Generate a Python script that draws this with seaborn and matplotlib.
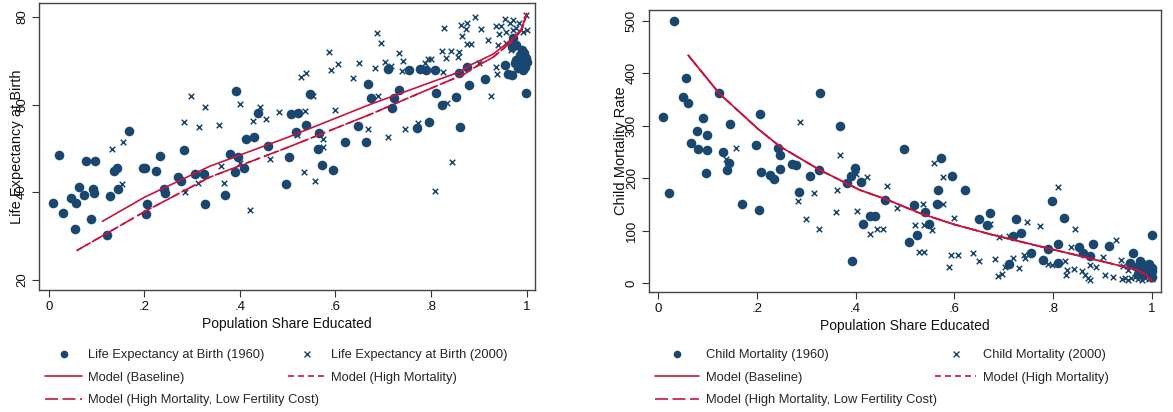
import matplotlib
matplotlib.use("Agg")
import matplotlib.pyplot as plt
import seaborn as sns
from matplotlib.lines import Line2D

# ---------------- data: left panel (life expectancy) ----------------
le_1960_x = [.008, .020, .029, .047, .054, .057, .062, .074, .077, .088, .093, .094, .097, .121, .128,
             .136, .142, .145, .168, .196, .202, .205, .203, .225, .233, .241, .244, .270, .276, .283,
             .306, .325, .327, .368, .380, .391, .396, .390, .409, .413, .429, .438, .458, .496, .503,
             .507, .522, .517, .538, .547, .566, .564, .571, .595, .620, .648, .663, .669, .674, .719,
             .723, .734, .709, .754, .778, .789, .808, .796, .771, .810, .822, .852, .861, .858, .875,
             .879, .913, .955, .962, .969, .999, .972, .979, .990, .995, .999, .979, .990, .997, .983,
             .993, 1.0, .976, .986, .969]
le_1960_y = [37.6, 48.4, 35.3, 38.7, 31.5, 37.4, 41.1, 39.4, 47.1, 33.8, 40.7, 39.7, 47.1, 30.2, 39.2,
             44.8, 45.6, 40.6, 53.9, 45.6, 45.6, 37.2, 35.0, 44.7, 48.2, 40.6, 39.8, 43.5, 42.5, 49.6,
             44.1, 44.1, 37.3, 39.3, 48.6, 63.2, 48.1, 44.6, 45.4, 52.1, 52.6, 58.0, 50.5, 41.9, 48.0,
             57.9, 58.0, 53.8, 55.3, 62.4, 53.4, 49.8, 46.2, 45.1, 51.4, 55.1, 51.4, 64.8, 61.4, 59.1,
             61.6, 63.3, 68.1, 67.8, 68.1, 67.9, 67.9, 56.1, 54.6, 62.7, 60.0, 61.8, 54.9, 67.1, 68.6,
             64.5, 65.8, 69.0, 67.0, 66.8, 62.6, 75.1, 73.6, 72.5, 71.7, 70.6, 70.2, 69.4, 68.6, 68.3,
             67.9, 69.8, 69.4, 71.3, 73.2]
le_2000_x = [.133, .156, .153, .282, .285, .297, .313, .315, .326, .357, .360, .367, .400, .401, .420,
             .427, .441, .454, .463, .482, .519, .527, .538, .537, .535, .553, .558, .574, .574, .586,
             .591, .605, .598, .637, .649, .669, .686, .695, .682, .704, .716, .732, .742, .740, .690,
             .711, .746, .773, .787, .793, .800, .822, .831, .841, .827, .826, .834, .844, .809, .859,
             .857, .862, .875, .873, .864, .875, .884, .892, .905, .919, .900, .926, .936, .939, .941,
             .937, .947, .943, .954, .958, .965, .957, .967, .972, .979, .984, .999, .993, 1.0, .972]
le_2000_y = [49.9, 51.4, 41.8, 55.9, 39.9, 61.9, 42.1, 54.9, 59.5, 55.4, 46.0, 42.1, 60.2, 46.6, 36.0,
             56.2, 59.4, 56.7, 47.5, 58.4, 53.0, 66.4, 67.3, 58.6, 44.5, 61.9, 42.6, 52.1, 50.3, 72.0,
             68.0, 69.3, 58.8, 66.1, 69.6, 54.4, 76.3, 74.0, 68.4, 69.7, 68.8, 71.7, 69.9, 67.7, 62.0,
             52.6, 54.3, 55.7, 69.4, 70.3, 70.3, 72.3, 70.6, 72.2, 77.4, 67.5, 60.3, 46.8, 40.2, 72.1,
             70.8, 78.2, 78.6, 77.2, 75.7, 73.8, 73.8, 80.1, 77.3, 74.7, 69.4, 62.0, 68.6, 66.9, 73.6,
             77.9, 77.9, 76.1, 79.5, 76.6, 78.6, 74.0, 72.5, 79.3, 77.4, 78.6, 80.5, 76.6, 77.0, 77.0]
le_base_x = [.112, .2, .337, .5, .672, .861, .882, .93, .972, .99, 1.0]
le_base_y = [33.3, 38.8, 45.9, 52.5, 60.0, 67.5, 69.0, 71.5, 75.1, 77.4, 80.8]
le_hm_x = [.058, .2, .337, .5, .672, .742, .871, .882, .93, .965, .99, 1.0]
le_hm_y = [26.6, 35.5, 43.4, 50.2, 57.7, 61.0, 67.0, 67.9, 70.8, 74.0, 77.0, 80.5]

# ---------------- data: right panel (child mortality) ----------------
cm_1960_x = [.032, .011, .023, .057, .051, .060, .092, .078, .100, .066, .080, .099, .097, .124, .146,
             .131, .144, .139, .171, .204, .206, .198, .208, .227, .235, .242, .246, .246, .272, .279,
             .308, .286, .325, .328, .368, .393, .383, .391, .398, .410, .415, .430, .440, .460, .498,
             .509, .524, .519, .540, .549, .565, .567, .572, .596, .621, .649, .665, .672, .725, .735,
             .719, .711, .754, .797, .822, .790, .780, .810, .809, .852, .880, .860, .874, .913, .962,
             .955, .999, .976, .986, .996, .979, .989, .999, .969, .993, .982, .999, .972, 1.0, .990]
cm_1960_y = [500, 316, 171, 390, 355, 343, 314, 289, 282, 267, 255, 254, 209, 361, 302,
             249, 228, 215, 151, 140, 321, 262, 212, 206, 199, 257, 243, 217, 226, 225,
             203, 174, 215, 362, 300, 41, 191, 204, 220, 193, 113, 128, 128, 159, 255,
             79, 92, 148, 135, 112, 150, 177, 239, 203, 178, 122, 110, 133, 121, 95,
             90, 36, 58, 156, 124, 64, 44, 74, 39, 68, 74, 58, 51, 70, 58,
             38, 91, 41, 34, 31, 25, 22, 22, 31, 37, 15, 12, 18, 28, 28]
cm_2000_x = [.157, .137, .287, .284, .316, .299, .325, .368, .362, .360, .401, .403, .422, .429, .444,
             .456, .464, .483, .559, .576, .576, .536, .521, .538, .555, .529, .539, .599, .593, .607,
             .588, .638, .650, .810, .746, .773, .844, .835, .927, .672, .691, .711, .683, .718, .740,
             .743, .731, .702, .696, .689, .790, .797, .824, .827, .826, .842, .858, .864, .871, .875,
             .875, .887, .905, .920, .901, .937, .942, .939, .946, .952, .958, .965, .972, .979, .986,
             .993, 1.0, .952, .966]
cm_2000_y = [257, 237, 307, 156, 171, 122, 102, 244, 178, 135, 207, 137, 202, 94, 103,
             102, 185, 142, 228, 202, 150, 150, 111, 110, 101, 59, 59, 124, 53, 53,
             31, 58, 41, 182, 117, 108, 103, 69, 81, 112, 88, 90, 45, 48, 53,
             48, 29, 31, 18, 13, 37, 34, 41, 25, 15, 26, 22, 15, 9, 6,
             34, 31, 15, 11, 50, 44, 32, 8, 10, 6, 9, 11, 8, 6, 10,
             8, 7, 25, 31]
cm_model_x = [.061, .124, .203, .247, .328, .409, .463, .530, .598, .672, .794, .874, .969, .989, 1.0]
cm_model_y = [434, 361, 293, 260, 215, 177, 159, 133, 112, 93, 65, 47, 25, 15, 2.5]

xtick_vals = [0, .2, .4, .6, .8, 1]
xtick_labels = ["0", ".2", ".4", ".6", ".8", "1"]
le_yticks = [20, 40, 60, 80]
cm_yticks = [0, 100, 200, 300, 400, 500]

# ---------------- style ----------------
sns.set_theme(style="white")
plt.rcParams['font.family'] = ['Liberation Sans', 'DejaVu Sans']
NAVY = "#1a476f"
RED = "#c8143c"
LW = 1.2
HM_DASH = (0, (3.6, 2.4))
LFC_DASH = (0, (7.8, 2.7))

fig = plt.figure(figsize=(11.73, 4.12), dpi=100)
W, H = 1173, 412
axL = fig.add_axes([39 / W, 1 - 290 / H, 496 / W, 287 / H])
axR = fig.add_axes([649 / W, 1 - 292 / H, 512 / W, 282 / H])


def scatter(ax, x1, y1, x2, y2):
    sns.scatterplot(x=x1, y=y1, ax=ax, marker='o', s=48, color=NAVY, linewidth=0, zorder=3)
    sns.scatterplot(x=x2, y=y2, ax=ax, marker='x', s=16, color=NAVY, linewidth=1.1, zorder=3)


scatter(axL, le_1960_x, le_1960_y, le_2000_x, le_2000_y)
sns.lineplot(x=le_base_x, y=le_base_y, ax=axL, color=RED, lw=LW, sort=False, estimator=None, zorder=4)
sns.lineplot(x=le_hm_x, y=le_hm_y, ax=axL, color=RED, lw=LW, linestyle=HM_DASH, sort=False, estimator=None, zorder=4)
sns.lineplot(x=le_hm_x, y=le_hm_y, ax=axL, color=RED, lw=LW, linestyle=LFC_DASH, sort=False, estimator=None, zorder=4)

scatter(axR, cm_1960_x, cm_1960_y, cm_2000_x, cm_2000_y)
sns.lineplot(x=cm_model_x, y=cm_model_y, ax=axR, color=RED, lw=LW, sort=False, estimator=None, zorder=4)
sns.lineplot(x=cm_model_x, y=cm_model_y, ax=axR, color=RED, lw=LW, linestyle=HM_DASH, sort=False, estimator=None, zorder=4)
sns.lineplot(x=cm_model_x, y=cm_model_y, ax=axR, color=RED, lw=LW, linestyle=LFC_DASH, sort=False, estimator=None, zorder=4)

axL.set_xlim(-0.0209, 1.0178)
axL.set_ylim(17.6, 83.2)
axR.set_xlim(-0.0182, 1.018)
axR.set_ylim(-17.1, 520)

for ax, yt, yl, ylx in [(axL, le_yticks, "Life Expectancy at Birth", (16.5 - 39) / 496),
                        (axR, cm_yticks, "Child Mortality Rate", (621.5 - 649) / 512)]:
    ax.set_xticks(xtick_vals)
    ax.set_xticklabels(xtick_labels)
    ax.set_yticks(yt)
    ax.set_yticklabels([str(v) for v in yt])
    ax.tick_params(axis='both', which='major', direction='out', length=5, width=0.8,
                   color='#333333', labelsize=9.5, labelcolor='#111111', pad=3,
                   bottom=True, left=True)
    ax.tick_params(axis='y', labelrotation=90)
    for lbl in ax.get_yticklabels():
        lbl.set_va('center')
    ax.set_xlabel("Population Share Educated", fontsize=10, color='#111111', labelpad=3)
    ax.set_ylabel(yl, fontsize=10.5, color='#111111', va='center')
    ax.yaxis.set_label_coords(ylx, 0.5)
    for sp in ax.spines.values():
        sp.set_color('#444444')
        sp.set_linewidth(1.0)
        sp.set_visible(True)

# ---------------- legends ----------------
dot_h = Line2D([], [], marker='o', ls='none', color=NAVY, markersize=5.5, markeredgewidth=0)
x_h = Line2D([], [], marker='x', ls='none', color=NAVY, markersize=4, markeredgewidth=1)
base_h = Line2D([], [], color=RED, lw=LW)
hm_h = Line2D([], [], color=RED, lw=LW, ls=HM_DASH)
lfc_h = Line2D([], [], color=RED, lw=LW, ls=LFC_DASH)

LEG_FS = 9.3
common = dict(loc='upper left', frameon=False, fontsize=LEG_FS, borderpad=0, borderaxespad=0,
              labelspacing=0.82, bbox_transform=fig.transFigure)
top = 1 - 349 / H

fig.legend(handles=[dot_h, base_h, lfc_h],
           labels=["Life Expectancy at Birth (1960)", "Model (Baseline)",
                   "Model (High Mortality, Low Fertility Cost)"],
           bbox_to_anchor=(45 / W, top), handlelength=2.9, handletextpad=0.45, **common)
fig.legend(handles=[x_h, hm_h],
           labels=["Life Expectancy at Birth (2000)", "Model (High Mortality)"],
           bbox_to_anchor=(288 / W, top), handlelength=2.9, handletextpad=0.45, **common)
fig.legend(handles=[dot_h, base_h, lfc_h],
           labels=["Child Mortality (1960)", "Model (Baseline)",
                   "Model (High Mortality, Low Fertility Cost)"],
           bbox_to_anchor=(655 / W, top), handlelength=3.4, handletextpad=0.55, **common)
fig.legend(handles=[x_h, hm_h],
           labels=["Child Mortality (2000)", "Model (High Mortality)"],
           bbox_to_anchor=(935 / W, top), handlelength=3.2, handletextpad=0.55, **common)

fig.savefig("out.png", dpi=100, facecolor='white')
